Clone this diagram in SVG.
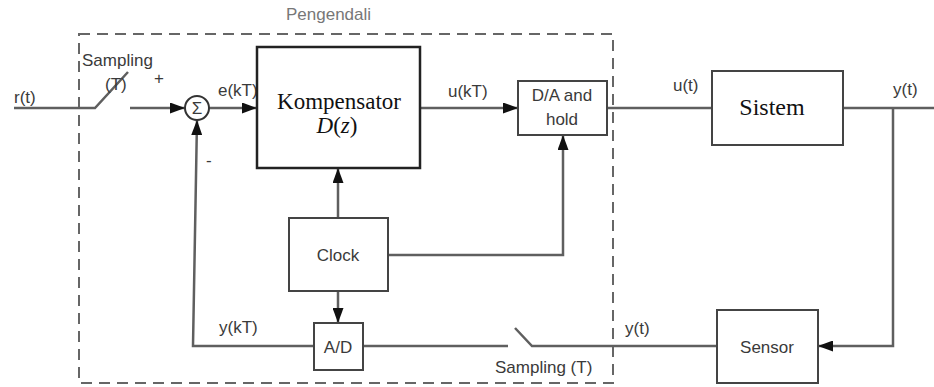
<svg xmlns="http://www.w3.org/2000/svg" width="934" height="387" viewBox="0 0 934 387">
<style>
.ln{fill:none;stroke:#5f5f5f;stroke-width:2.5}
.bx{fill:#fff;stroke:#444;stroke-width:2}
.s{font-family:"Liberation Sans",Arial,sans-serif;font-size:17px;fill:#3a3a3a}
.r{font-family:"Liberation Serif","Times New Roman",serif;font-size:23px;fill:#111}
</style>
<defs>
<marker id="ah" viewBox="0 0 15 11" refX="15" refY="5.5" markerWidth="15" markerHeight="11" markerUnits="userSpaceOnUse" orient="auto">
<path d="M0,0 L15,5.5 L0,11 Z" fill="#111"/>
</marker>
</defs>
<rect width="934" height="387" fill="#fff"/>
<g id="pengendali">
<rect x="79" y="34" width="534" height="349" fill="none" stroke="#666" stroke-width="2" stroke-dasharray="11,7"/>
<text class="s" x="286" y="20" style="fill:#777">Pengendali</text>
</g>
<g id="connectors">
<path class="ln" d="M14,108 H95 L128,72"/>
<path class="ln" d="M130,108 H185" marker-end="url(#ah)"/>
<path class="ln" d="M209,108 H257" marker-end="url(#ah)"/>
<path class="ln" d="M420,108 H518" marker-end="url(#ah)"/>
<path class="ln" d="M607,108 H712"/>
<path class="ln" d="M843,108 H934"/>
<path class="ln" d="M893,108 V346 H818" marker-end="url(#ah)"/>
<path class="ln" d="M717,346 H532 L515,328"/>
<path class="ln" d="M508,346 H363"/>
<path class="ln" d="M314,346 H193 L197,120" marker-end="url(#ah)"/>
<path class="ln" d="M338,218 V168" marker-end="url(#ah)"/>
<path class="ln" d="M338,291 V323" marker-end="url(#ah)"/>
<path class="ln" d="M388,255 H563 V135" marker-end="url(#ah)"/>
</g>
<g id="labels">
<text class="s" x="82" y="66">Sampling</text>
<text class="s" x="105" y="90">(T)</text>
<text class="s" x="14" y="103">r(t)</text>
<text class="s" x="154" y="84">+</text>
<text class="s" x="206" y="166">-</text>
<text class="s" x="218" y="96">e(kT)</text>
<text class="s" x="448" y="97">u(kT)</text>
<text class="s" x="673" y="91">u(t)</text>
<text class="s" x="893" y="95">y(t)</text>
<text class="s" x="219" y="333">y(kT)</text>
<text class="s" x="625" y="334">y(t)</text>
<text class="s" x="495" y="373">Sampling (T)</text>
</g>
<g id="sum">
<circle cx="197" cy="108" r="12" fill="#fff" stroke="#333" stroke-width="2"/>
<text class="s" x="197" y="114" text-anchor="middle" style="font-size:17px">Σ</text>
</g>
<g id="kompensator">
<rect x="257" y="47" width="163" height="121" fill="#fff" stroke="#222" stroke-width="2.5"/>
<text class="r" x="339" y="109" text-anchor="middle">Kompensator</text>
<text class="r" x="337" y="133" text-anchor="middle"><tspan font-style="italic">D</tspan>(<tspan font-style="italic">z</tspan>)</text>
</g>
<g id="dahold">
<rect class="bx" x="518" y="81" width="89" height="54"/>
<text class="s" x="562" y="101" text-anchor="middle">D/A and</text>
<text class="s" x="562" y="125" text-anchor="middle">hold</text>
</g>
<g id="sistem">
<rect class="bx" x="712" y="71" width="131" height="74"/>
<text class="r" x="772" y="115" text-anchor="middle" style="font-size:24px">Sistem</text>
</g>
<g id="clock">
<rect class="bx" x="289" y="218" width="99" height="73"/>
<text class="s" x="338" y="261" text-anchor="middle">Clock</text>
</g>
<g id="ad">
<rect class="bx" x="314" y="323" width="49" height="47"/>
<text class="s" x="338" y="353" text-anchor="middle">A/D</text>
</g>
<g id="sensor">
<rect class="bx" x="717" y="310" width="101" height="73"/>
<text class="s" x="767" y="353" text-anchor="middle">Sensor</text>
</g>
</svg>
